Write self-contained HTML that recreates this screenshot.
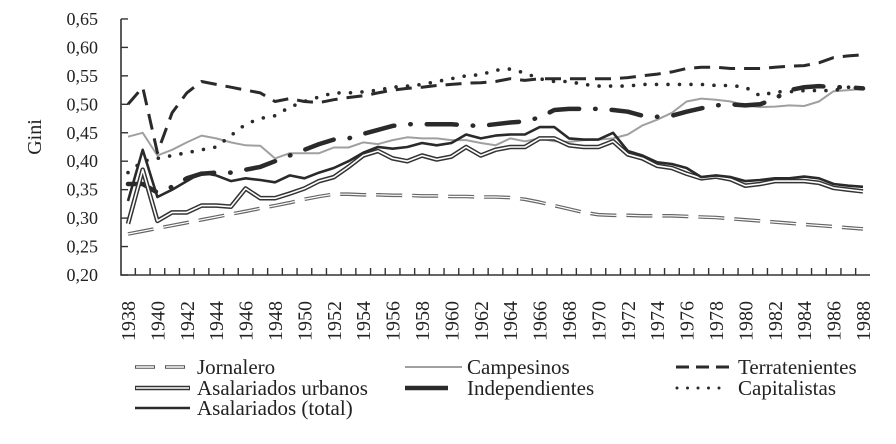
<!DOCTYPE html>
<html><head><meta charset="utf-8"><style>
body{margin:0;background:#fff}
text{font-family:"Liberation Serif","Times New Roman",Times,serif;fill:#222}
</style></head><body>
<svg id="chart" width="896" height="439" viewBox="0 0 896 439" xmlns="http://www.w3.org/2000/svg" font-family="Liberation Serif, Times New Roman, serif">
<g id="axes"></g>
<g id="series"></g>
<text transform="translate(41,137) rotate(-90)" text-anchor="middle" font-size="20" font-family="Liberation Serif, serif">Gini</text>
<g id="legend" font-size="21" font-family="Liberation Serif, serif"></g>
</svg>
<script>
const years=[];for(let y=1938;y<=1988;y++)years.push(y);
const yTicks=[0.20,0.25,0.30,0.35,0.40,0.45,0.50,0.55,0.60,0.65];
const yTickLabels=["0,20","0,25","0,30","0,35","0,40","0,45","0,50","0,55","0,60","0,65"];
const jornalero=[.272,.277,.282,.287,.292,.297,.302,.307,.312,.317,.322,.327,.333,.338,.342,.342,.341,.341,.340,.340,.339,.339,.338,.338,.337,.337,.336,.333,.328,.322,.316,.310,.306,.305,.305,.304,.304,.304,.303,.302,.301,.299,.297,.295,.293,.291,.289,.287,.285,.283,.281];
const campesinos=[.443,.45,.41,.42,.433,.445,.44,.433,.428,.427,.405,.414,.414,.414,.424,.424,.433,.43,.437,.442,.44,.44,.437,.437,.432,.428,.44,.435,.44,.435,.434,.437,.438,.44,.447,.463,.473,.485,.505,.51,.508,.505,.498,.495,.496,.498,.497,.505,.523,.525,.527];
const terratenientes=[.50,.53,.415,.485,.52,.54,.535,.53,.525,.52,.505,.51,.505,.503,.508,.512,.515,.52,.525,.528,.53,.533,.535,.537,.538,.54,.545,.542,.545,.545,.545,.545,.545,.545,.547,.55,.553,.557,.563,.565,.565,.563,.563,.563,.565,.567,.568,.573,.582,.585,.587];
const capitalistas=[.38,.40,.405,.41,.415,.42,.425,.445,.465,.475,.48,.495,.505,.513,.52,.52,.522,.525,.53,.532,.535,.54,.545,.55,.552,.56,.562,.555,.545,.54,.54,.535,.532,.532,.532,.535,.535,.535,.535,.535,.533,.533,.53,.515,.522,.522,.524,.524,.524,.53,.527];
const independientes=[.36,.36,.345,.355,.37,.378,.38,.38,.385,.39,.40,.41,.42,.43,.438,.44,.448,.455,.462,.465,.465,.465,.465,.463,.462,.465,.468,.47,.477,.49,.492,.492,.492,.49,.487,.48,.478,.48,.487,.493,.498,.5,.498,.5,.51,.525,.53,.532,.53,.53,.528];
const urbanos=[.29,.385,.295,.31,.31,.322,.322,.32,.352,.335,.335,.343,.352,.365,.372,.39,.41,.418,.405,.40,.41,.403,.408,.425,.41,.42,.425,.425,.44,.44,.428,.425,.425,.435,.412,.405,.392,.388,.378,.37,.373,.368,.357,.36,.365,.365,.365,.362,.353,.35,.347];
const total=[.33,.42,.337,.35,.365,.38,.375,.365,.37,.367,.363,.375,.37,.38,.388,.40,.415,.425,.422,.425,.432,.428,.432,.447,.44,.445,.447,.447,.46,.46,.44,.438,.438,.45,.418,.41,.398,.395,.388,.372,.375,.372,.365,.367,.37,.37,.373,.37,.36,.357,.355];

const NS="http://www.w3.org/2000/svg";
const X=y=>128+(y-1938)*14.7;
const Y=v=>275-(v-0.2)/0.05*28.45;
function mk(tag,attrs,parent){const e=document.createElementNS(NS,tag);for(const k in attrs)e.setAttribute(k,attrs[k]);parent.appendChild(e);return e;}
const axes=document.getElementById('axes');
const ya=mk('path',{d:`M121,${Y(0.65)} L121,275 L870,275`,stroke:'#333','stroke-width':1.6,fill:'none'},axes);


yTicks.forEach((t,i)=>{
  const l=mk('line',{x1:121,x2:128,y1:Y(t),y2:Y(t),stroke:'#333','stroke-width':1.4},axes);
  
  
  const tx=mk('text',{x:98,y:Y(t)+6,'text-anchor':'end','font-size':18,'font-family':'Liberation Serif, serif'},axes);
  tx.textContent=yTickLabels[i];
  
  
});
years.forEach((yr,i)=>{
  if(i>0){const l=mk('line',{x1:X(yr)-7.35,x2:X(yr)-7.35,y1:268,y2:275,stroke:'#333','stroke-width':1.4},axes);
  
  }
  if(yr%2===0){
    const tx=mk('text',{transform:`translate(${X(yr)+7},341) rotate(-90)`,'font-size':20,'font-family':'Liberation Serif, serif'},axes);
    tx.textContent=yr;
    
    
  }
});
const sg=document.getElementById('series');
function pts(arr){return arr.map((v,i)=>`${i?'L':'M'}${X(years[i]).toFixed(1)},${Y(v).toFixed(1)}`).join(' ');}
function line(arr,name,st){const p=mk('path',Object.assign({d:pts(arr),fill:'none','stroke-linejoin':'round'},st),sg);
  
  return p;}
line(jornalero,'jornalero-line',{stroke:'#666','stroke-width':3.6,'stroke-dasharray':'26 10'});
line(jornalero,'jornalero-line-inner',{stroke:'#fff','stroke-width':1.2,'stroke-dasharray':'26 10'});
line(campesinos,'campesinos-line',{stroke:'#a0a0a0','stroke-width':2});
line(terratenientes,'terratenientes-line',{stroke:'#2a2a2a','stroke-width':3,'stroke-dasharray':'16 9'});
line(capitalistas,'capitalistas-line',{stroke:'#2a2a2a','stroke-width':3.6,'stroke-dasharray':'0 11.5','stroke-linecap':'round'});
line(independientes,'independientes-line',{stroke:'#2a2a2a','stroke-width':4.5,'stroke-dasharray':'30 16 0.5 16','stroke-linecap':'round'});
line(urbanos,'urbanos-line',{stroke:'#333','stroke-width':4.6});
line(urbanos,'urbanos-line-inner',{stroke:'#fff','stroke-width':1.6});
line(total,'total-line',{stroke:'#2a2a2a','stroke-width':2.6});

const lg=document.getElementById('legend');
const entries=[
 {n:'Jornalero',x1:135,x2:190,tx:197,y:367,st:{stroke:'#555','stroke-width':3.6,'stroke-dasharray':'20 10'},inner:true},
 {n:'Campesinos',x1:405,x2:462,tx:467,y:367,st:{stroke:'#a0a0a0','stroke-width':2}},
 {n:'Terratenientes',x1:676,x2:730,tx:738,y:367,st:{stroke:'#2a2a2a','stroke-width':3,'stroke-dasharray':'13 7'}},
 {n:'Asalariados urbanos',x1:135,x2:190,tx:197,y:388,st:{stroke:'#333','stroke-width':4.6},inner:true,solidInner:true},
 {n:'Independientes',x1:405,x2:448,tx:467,y:388,st:{stroke:'#2a2a2a','stroke-width':4.5}},
 {n:'Capitalistas',x1:677,x2:729,tx:738,y:388,st:{stroke:'#2a2a2a','stroke-width':3,'stroke-dasharray':'0 10.5','stroke-linecap':'round'}},
 {n:'Asalariados (total)',x1:135,x2:190,tx:197,y:408,st:{stroke:'#2a2a2a','stroke-width':2.6}}
];
entries.forEach(e=>{
  const g=mk('g',{},lg);
  
  
  mk('line',Object.assign({x1:e.x1,x2:e.x2,y1:e.y,y2:e.y},e.st),g);
  if(e.inner){mk('line',{x1:e.x1+1,x2:e.x2-1,y1:e.y,y2:e.y,stroke:'#fff','stroke-width':1.4,'stroke-dasharray':e.solidInner?'none':'18 12'},g);}
  const t=mk('text',{x:e.tx,y:e.y+7,'font-family':'Liberation Serif, serif'},g);t.textContent=e.n;
});
</script>
</body></html>
